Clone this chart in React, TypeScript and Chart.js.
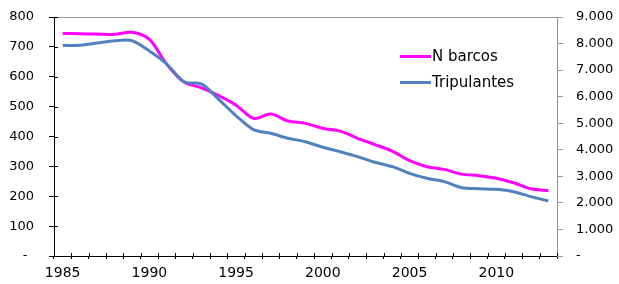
import React, { useEffect, useRef } from "react";
import { Chart, registerables } from "chart.js";

Chart.register(...registerables);

const years = [
  "1985", "1986", "1987", "1988", "1989", "1990", "1991", "1992", "1993", "1994",
  "1995", "1996", "1997", "1998", "1999", "2000", "2001", "2002", "2003", "2004",
  "2005", "2006", "2007", "2008", "2009", "2010", "2011", "2012", "2013",
];
const labeledYears = ["1985", "1990", "1995", "2000", "2005", "2010"];

const nBarcos = [
  745, 744, 743, 742, 749, 725, 642, 582, 563, 537,
  505, 461, 475, 452, 444, 427, 418, 394, 373, 351,
  319, 299, 290, 274, 269, 260, 245, 225, 219,
];
const tripulantes = [
  7934, 7934, 8020, 8108, 8108, 7720, 7230, 6560, 6480, 5900,
  5280, 4760, 4620, 4432, 4304, 4093, 3928, 3740, 3528, 3363,
  3113, 2925, 2799, 2573, 2535, 2510, 2422, 2234, 2071,
];

const seriesNames = ["N barcos", "Tripulantes"];
const seriesColors = ["#FF00FF", "#4F81BD"];

const leftMax = 800;
const leftStep = 100;
const rightMax = 9000;
const rightStep = 1000;

const FONT = "DejaVu Sans";

function fmtThousands(v: number): string {
  return String(Math.round(v)).replace(/\B(?=(\d{3})+(?!\d))/g, ".");
}

const framePlugin = {
  id: "frameAndLegend",
  afterDraw(chart: any) {
    const { ctx, chartArea } = chart;
    const { left, right, top, bottom } = chartArea;
    ctx.save();
    ctx.strokeStyle = "#969696";
    ctx.lineWidth = 1;
    ctx.beginPath();
    ctx.moveTo(left, Math.round(top) + 0.5);
    ctx.lineTo(right, Math.round(top) + 0.5);
    ctx.stroke();

    ctx.strokeStyle = "#000";
    const xs = chart.scales.x;
    const n = years.length;
    const w = (xs.right - xs.left) / n;
    ctx.beginPath();
    for (let i = 0; i <= n; i++) {
      const px = Math.round(xs.left + i * w) + 0.5;
      ctx.moveTo(px, bottom);
      ctx.lineTo(px, bottom - 3);
    }
    ctx.stroke();

    const ys = chart.scales.y;
    ctx.beginPath();
    for (let v = 0; v <= leftMax; v += leftStep) {
      const py = Math.round(ys.getPixelForValue(v)) + 0.5;
      ctx.moveTo(left, py);
      ctx.lineTo(left + 4, py);
    }
    ctx.stroke();

    const lx0 = 400;
    const lx1 = 431;
    const rows = [56.5, 82.5];
    ctx.font = `15px "${FONT}"`;
    ctx.textBaseline = "middle";
    ctx.textAlign = "left";
    chart.data.datasets.forEach((ds: any, i: number) => {
      const yy = rows[i];
      ctx.strokeStyle = ds.borderColor;
      ctx.lineWidth = 3;
      ctx.beginPath();
      ctx.moveTo(lx0, yy);
      ctx.lineTo(lx1, yy);
      ctx.stroke();
      ctx.fillStyle = "#000";
      ctx.fillText(ds.label, lx1 + 1, yy + 1);
    });
    ctx.restore();
  },
};

export default function App() {
  const ref = useRef<HTMLCanvasElement | null>(null);

  useEffect(() => {
    document.body.style.margin = "0";
    const canvas = ref.current;
    if (!canvas) return;
    const chart = new Chart(canvas, {
      type: "line",
      data: {
        labels: years,
        datasets: [
          {
            label: seriesNames[0],
            data: nBarcos,
            borderColor: seriesColors[0],
            backgroundColor: seriesColors[0],
            borderWidth: 3,
            pointRadius: 0,
            tension: 0.3,
            fill: false,
            yAxisID: "y",
            order: 1,
          },
          {
            label: seriesNames[1],
            data: tripulantes,
            borderColor: seriesColors[1],
            backgroundColor: seriesColors[1],
            borderWidth: 3,
            pointRadius: 0,
            tension: 0.3,
            fill: false,
            yAxisID: "y1",
            order: 0,
          },
        ],
      },
      options: {
        animation: false,
        responsive: false,
        maintainAspectRatio: false,
        layout: { padding: { top: 17, left: 0, right: 0, bottom: 0 } },
        plugins: {
          legend: { display: false },
          tooltip: { enabled: false },
        },
        scales: {
          x: {
            type: "category",
            offset: true,
            grid: {
              display: true,
              drawOnChartArea: false,
              drawTicks: true,
              tickLength: 3,
              color: "#000",
              offset: true,
            },
            border: { display: true, color: "#000", width: 1 },
            ticks: {
              autoSkip: false,
              maxRotation: 0,
              minRotation: 0,
              padding: 6,
              color: "#000",
              font: { family: FONT, size: 14 },
              callback: (_v: any, i: number) =>
                labeledYears.includes(years[i]) ? years[i] : "",
            },
            afterFit: (s: any) => {
              s.height = 28;
              s.paddingLeft = 0;
              s.paddingRight = 0;
            },
          },
          y: {
            type: "linear",
            position: "left",
            min: 0,
            max: leftMax,
            grid: {
              display: true,
              drawOnChartArea: false,
              drawTicks: true,
              tickLength: 5,
              color: "#000",
            },
            border: { display: true, color: "#000", width: 1 },
            ticks: {
              stepSize: leftStep,
              padding: 15,
              color: "#000",
              font: { family: FONT, size: 13 },
              callback: (v: any) => (Number(v) === 0 ? "-\u2002" : String(v)),
            },
            afterFit: (s: any) => {
              s.width = 54;
              s.paddingTop = 0;
              s.paddingBottom = 0;
            },
          },
          y1: {
            type: "linear",
            position: "right",
            min: 0,
            max: rightMax,
            grid: {
              display: true,
              drawOnChartArea: false,
              drawTicks: true,
              tickLength: 6,
              color: "#969696",
            },
            border: { display: true, color: "#969696", width: 1 },
            ticks: {
              stepSize: rightStep,
              padding: 13,
              color: "#000",
              font: { family: FONT, size: 13 },
              callback: (v: any) => (Number(v) === 0 ? "-" : fmtThousands(Number(v))),
            },
            afterFit: (s: any) => {
              s.width = 62;
              s.paddingTop = 0;
              s.paddingBottom = 0;
            },
          },
        },
      },
      plugins: [framePlugin],
    });
    return () => chart.destroy();
  }, []);

  return (
    <div style={{ width: 619, height: 284, background: "#fff" }}>
      <canvas ref={ref} width={619} height={284} style={{ display: "block" }} />
    </div>
  );
}
